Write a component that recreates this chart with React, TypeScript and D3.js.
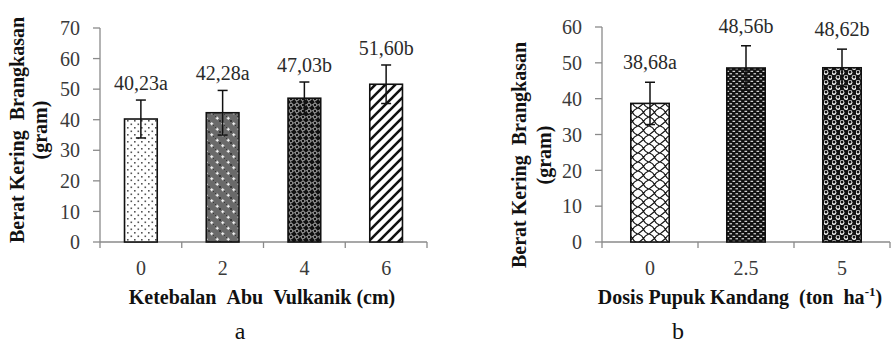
import React from "react";
import * as d3 from "d3";

// panel a: ketebalan abu vulkanik
const ashCategories = ["0", "2", "4", "6"];
const ashMeans = [40.23, 42.28, 47.03, 51.6];
const ashErrors = [6.2, 7.3, 5.3, 6.3];
const ashLabels = ["40,23a", "42,28a", "47,03b", "51,60b"];
const ashTicks = [0, 10, 20, 30, 40, 50, 60, 70];

// panel b: dosis pupuk kandang
const manureCategories = ["0", "2.5", "5"];
const manureMeans = [38.68, 48.56, 48.62];
const manureErrors = [5.9, 6.2, 5.2];
const manureLabels = ["38,68a", "48,56b", "48,62b"];
const manureTicks = [0, 10, 20, 30, 40, 50, 60];

const serif = '"Liberation Serif", "Times New Roman", serif';
const axisGray = "#8a8a8a";

function Patterns() {
  return (
    <defs>
      {/* sparse dots */}
      <pattern id="pDots" patternUnits="userSpaceOnUse" width="7" height="7">
        <rect width="7" height="7" fill="#fff" />
        <rect x="1" y="1" width="1.6" height="1.6" fill="#555" />
        <rect x="4.5" y="4.5" width="1.6" height="1.6" fill="#555" />
      </pattern>
      {/* gray with white crosses */}
      <pattern id="pCross" patternUnits="userSpaceOnUse" width="11" height="11">
        <rect width="11" height="11" fill="#6a6a6a" />
        <path d="M0,0h1v1h-1zM2,2h1v1h-1zM4,4h1v1h-1zM6,6h1v1h-1zM8,8h1v1h-1zM10,10h1v1h-1zM0,10h1v1h-1zM10,0h1v1h-1z" fill="#3a3a3a" />
        <path d="M2.75,1.2V4.3M1.2,2.75H4.3M8.25,6.7V9.8M6.7,8.25H9.8" stroke="#fff" strokeWidth="1" />
      </pattern>
      {/* black with white lattice */}
      <pattern id="pLattice" patternUnits="userSpaceOnUse" width="6" height="6">
        <rect width="6" height="6" fill="#111" />
        <path d="M3,0.6L5.4,3L3,5.4L0.6,3Z" fill="none" stroke="#eee" strokeWidth="0.9" />
      </pattern>
      {/* wide diagonal stripes */}
      <pattern id="pStripe" patternUnits="userSpaceOnUse" width="10" height="10">
        <rect width="10" height="10" fill="#fff" />
        <path d="M-2,2L2,-2M0,10L10,0M8,12L12,8" stroke="#111" strokeWidth="2.6" />
      </pattern>
      {/* shingle */}
      <pattern id="pShingle" patternUnits="userSpaceOnUse" width="11" height="9">
        <rect width="11" height="9" fill="#fff" />
        <path d="M0,0Q4,1 5.5,4.5Q7,8 11,9M11,0Q7,1.5 5.5,4.5M0,9Q3,6.5 5.5,4.5" fill="none" stroke="#111" strokeWidth="1.1" />
      </pattern>
      {/* black with white dashes */}
      <pattern id="pDash" patternUnits="userSpaceOnUse" width="6" height="5">
        <rect width="6" height="5" fill="#111" />
        <rect x="0.5" y="0.8" width="2.6" height="1" fill="#fff" />
        <rect x="3.5" y="3.3" width="2.6" height="1" fill="#fff" />
      </pattern>
      {/* black with white spheres */}
      <pattern id="pSphere" patternUnits="userSpaceOnUse" width="8" height="10">
        <rect width="8" height="10" fill="#111" />
        <circle cx="2" cy="2.5" r="2.4" fill="#fff" />
        <circle cx="2" cy="2" r="1.5" fill="#111" />
        <circle cx="6" cy="7.5" r="2.4" fill="#fff" />
        <circle cx="6" cy="7" r="1.5" fill="#111" />
      </pattern>
    </defs>
  );
}

type PanelProps = {
  x0: number;
  x1: number;
  yTop: number;
  yBottom: number;
  yMax: number;
  ticks: number[];
  cats: string[];
  means: number[];
  errs: number[];
  labels: string[];
  fills: string[];
  labelGap: number;
  titleX: [number, number];
  titleY: number;
  xTitle: React.ReactNode;
  xTitleX: number;
  letter: string;
  letterX: number;
};

function Panel(p: PanelProps) {
  const x = d3
    .scaleBand<string>()
    .domain(p.cats)
    .range([p.x0, p.x1])
    .paddingInner(0.6)
    .paddingOuter(0.3);
  const y = d3.scaleLinear().domain([0, p.yMax]).range([p.yBottom, p.yTop]);
  const step = x.step();
  const bw = x.bandwidth();
  const bounds = d3.range(p.cats.length + 1).map((i) => p.x0 + i * step);

  return (
    <g>
      {/* y axis */}
      <line x1={p.x0} x2={p.x0} y1={y(p.yMax)} y2={p.yBottom} stroke={axisGray} strokeWidth={1.3} />
      {p.ticks.map((t) => (
        <g key={t}>
          <line x1={p.x0 - 7} x2={p.x0} y1={y(t)} y2={y(t)} stroke={axisGray} strokeWidth={1.3} />
          <text x={p.x0 - 20} y={y(t)} dy="0.36em" textAnchor="end" fontSize={20} fill="#3a3a3a" fontFamily={serif}>
            {t}
          </text>
        </g>
      ))}
      {/* x axis */}
      <line x1={p.x0} x2={p.x1} y1={p.yBottom} y2={p.yBottom} stroke={axisGray} strokeWidth={1.3} />
      {bounds.map((b, i) => (
        <line key={i} x1={b} x2={b} y1={p.yBottom} y2={p.yBottom + 6} stroke={axisGray} strokeWidth={1.3} />
      ))}
      {p.cats.map((c) => (
        <text key={c} x={x(c)! + bw / 2} y={275} textAnchor="middle" fontSize={20} fill="#3a3a3a" fontFamily={serif}>
          {c}
        </text>
      ))}
      {/* bars */}
      {p.cats.map((c, i) => {
        const cx = x(c)! + bw / 2;
        const top = y(p.means[i] + p.errs[i]);
        const bot = y(p.means[i] - p.errs[i]);
        return (
          <g key={c}>
            <rect x={x(c)!} y={y(p.means[i])} width={bw} height={p.yBottom - y(p.means[i])} fill={`url(#${p.fills[i]})`} stroke="#111" strokeWidth={1.6} />
            <line x1={cx} x2={cx} y1={top} y2={bot} stroke="#111" strokeWidth={1.5} />
            <line x1={cx - 5} x2={cx + 5} y1={top} y2={top} stroke="#111" strokeWidth={1.5} />
            <line x1={cx - 5} x2={cx + 5} y1={bot} y2={bot} stroke="#111" strokeWidth={1.5} />
            <text x={cx} y={top - p.labelGap} textAnchor="middle" fontSize={20} fill="#2a2a2a" fontFamily={serif}>
              {p.labels[i]}
            </text>
          </g>
        );
      })}
      {/* y title */}
      <g fontFamily={serif} fontWeight="bold" fontSize={20} fill="#111" textAnchor="middle">
        <text transform={`translate(${p.titleX[0]},${p.titleY}) rotate(-90)`}>
          Berat Kering{"\u00a0\u00a0"}Brangkasan
        </text>
        <text transform={`translate(${p.titleX[1]},${p.titleY}) rotate(-90)`}>(gram)</text>
      </g>
      {/* x title */}
      <text x={p.xTitleX} y={304} textAnchor="middle" fontFamily={serif} fontWeight="bold" fontSize={20} fill="#111">
        {p.xTitle}
      </text>
      <text x={p.letterX} y={339} textAnchor="middle" fontFamily={serif} fontSize={24} fill="#111">
        {p.letter}
      </text>
    </g>
  );
}

export default function App() {
  return (
    <svg
      width={893}
      height={346}
      viewBox="0 0 893 346"
      style={{ position: "absolute", left: 0, top: 0, background: "#fff" }}
    >
      <Patterns />
      <Panel
        x0={100}
        x1={427}
        yTop={28}
        yBottom={242}
        yMax={70}
        ticks={ashTicks}
        cats={ashCategories}
        means={ashMeans}
        errs={ashErrors}
        labels={ashLabels}
        fills={["pDots", "pCross", "pLattice", "pStripe"]}
        labelGap={10}
        titleX={[24, 47]}
        titleY={130}
        xTitle={"Ketebalan\u00a0\u00a0Abu\u00a0\u00a0Vulkanik (cm)"}
        xTitleX={262}
        letter="a"
        letterX={240}
      />
      <Panel
        x0={602}
        x1={890}
        yTop={27}
        yBottom={242}
        yMax={60}
        ticks={manureTicks}
        cats={manureCategories}
        means={manureMeans}
        errs={manureErrors}
        labels={manureLabels}
        fills={["pShingle", "pDash", "pSphere"]}
        labelGap={13}
        titleX={[526, 551]}
        titleY={155}
        xTitle={
          <>
            Dosis Pupuk Kandang{"\u00a0\u00a0"}(ton{"\u00a0\u00a0"}ha
            <tspan dy={-8} fontSize={13}>-1</tspan>
            <tspan dy={8}>)</tspan>
          </>
        }
        xTitleX={740}
        letter="b"
        letterX={678}
      />
    </svg>
  );
}
